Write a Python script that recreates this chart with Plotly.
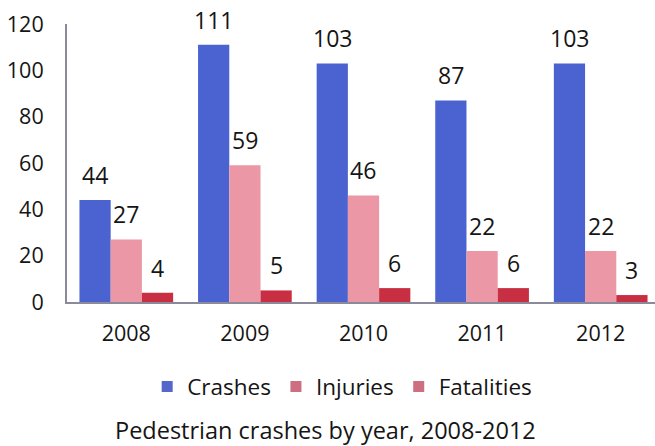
import plotly.graph_objects as go

years = ["2008", "2009", "2010", "2011", "2012"]
crashes = [44, 111, 103, 87, 103]
injuries = [27, 59, 46, 22, 22]
fatalities = [4, 5, 6, 6, 3]

series = [
    ("Crashes", crashes, "#4a63d0", "#5567c8"),
    ("Injuries", injuries, "#eb97a6", "#cd6f80"),
    ("Fatalities", fatalities, "#c92f42", "#cd6f80"),
]

FONT = "Open Sans, sans-serif"
TEXT = "#151515"

fig = go.Figure()
for name, vals, color, _ in series:
    fig.add_trace(go.Bar(x=years, y=vals, name=name, marker_color=color,
                         marker_line_width=0, showlegend=False))

# legend swatches
for name, _, _, lcolor in series:
    fig.add_trace(go.Scatter(x=[None], y=[None], name=name, mode="markers",
                             marker=dict(symbol="square", size=11, color=lcolor),
                             showlegend=True))

# value labels above each bar
bar_px = 31.2
offsets = [-bar_px, 0, bar_px]
for (name, vals, _, _), dx in zip(series, offsets):
    for i, v in enumerate(vals):
        fig.add_annotation(x=i, y=v, text=str(v), showarrow=False,
                           xref="x", yref="y",
                           xshift=dx, yshift=25, yanchor="middle",
                           font=dict(family=FONT, size=23, color=TEXT))

fig.add_annotation(text="Pedestrian crashes by year, 2008-2012",
                   xref="paper", yref="paper", x=0.44, y=-0.462,
                   xanchor="center", yanchor="middle", showarrow=False,
                   font=dict(family=FONT, size=23.5, color=TEXT))

fig.update_layout(
    width=655, height=446,
    margin=dict(l=67, r=0, t=24, b=144),
    paper_bgcolor="white", plot_bgcolor="white",
    barmode="group", bargap=0.21, bargroupgap=0,
    font=dict(family=FONT, color=TEXT),
    legend=dict(orientation="h", x=0.468, xanchor="center", y=-0.305,
                yanchor="middle", font=dict(family=FONT, size=22.5, color=TEXT),
                traceorder="normal"),
    xaxis=dict(type="category", range=[-0.5, 4.458], showline=True,
               linecolor="#8a8a9a", linewidth=2, ticks="",
               tickfont=dict(size=21.5, color=TEXT),
               ticklabelstandoff=11, showgrid=False),
    yaxis=dict(range=[0, 120], dtick=20, showline=True, linecolor="#8a8a9a",
               linewidth=2, ticks="", tickfont=dict(size=21.5, color=TEXT),
               ticklabelstandoff=17, showgrid=False, zeroline=False),
)

fig.write_html("out.html")
